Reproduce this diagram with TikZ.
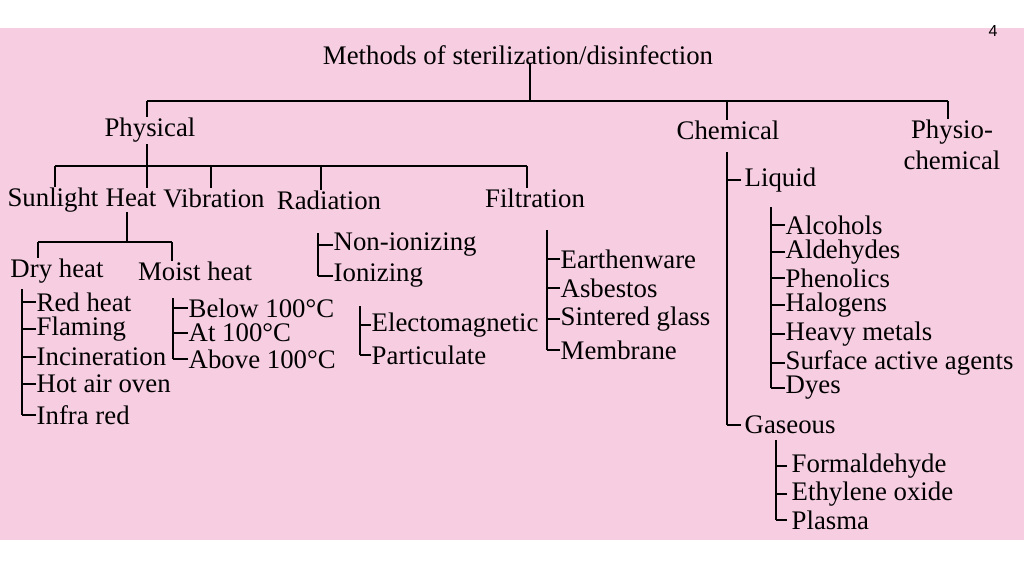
\documentclass[tikz,border=0pt]{standalone}
\usepackage{fontspec}
\setmainfont{Liberation Serif}
\newfontfamily\numfont{Liberation Sans}
\definecolor{bgpink}{RGB}{247,205,225}
\begin{document}
\begin{tikzpicture}[x=1pt,y=-1pt,line width=1.4pt,
  txt/.style={inner sep=0pt,font=\fontsize{26.8}{30}\selectfont},
  it/.style={txt,anchor=west},
  br/.style={line width=1.2pt}]
\useasboundingbox (0,0) rectangle (1024,576);
\fill[white] (0,0) rectangle (1024,576);
\fill[bgpink] (0,28) rectangle (1024,540);
\node[inner sep=0pt,font=\numfont\fontsize{16}{18}\selectfont] (pg) at (993,31) {4};
\node[txt] (title) at (518,55) {Methods of sterilization/disinfection};
\node[txt] (phys) at (150,130) {Physical};
\node[txt] (chem) at (728,130) {Chemical};
\node[txt,align=center,font=\fontsize{26.8}{31}\selectfont] (pc) at (952,145) {Physio-\\chemical};
\coordinate (j0) at (530,101);
\draw (title.south -| j0) ++(0,-2) -- (j0);
\draw (147,101) -- (948,101);
\draw (147,101) -- (phys.north -| 147,0);
\draw (727,101) -- (chem.north -| 727,0);
\draw (948,101) -- (pc.north -| 948,0);
% physical children
\node[txt] (sun) at (53,200) {Sunlight};
\node[txt] (heat) at (131,198) {Heat};
\node[txt] (vib) at (214,198) {Vibration};
\node[txt] (rad) at (329,200) {Radiation};
\node[txt] (fil) at (535,198) {Filtration};
\draw (147,144) -- (147,166);
\draw (55,166) -- (527,166);
\foreach \x/\n in {55/sun,147/heat,211/vib,321/rad,527/fil}
  \draw (\x,166) -- (\n.north -| \x,0);
% heat
\node[txt] (dry) at (57,271) {Dry heat};
\node[txt] (moist) at (195,271) {Moist heat};
\draw (127,212) -- (127,242);
\draw (38,242) -- (172,242);
\draw (38,242) -- (dry.north -| 38,0);
\draw (172,242) -- (moist.north -| 172,0);
% dry heat list
\node[it] (d1) at (36,302) {Red heat};
\node[it] (d2) at (36,329) {Flaming};
\node[it] (d3) at (36,357) {Incineration};
\node[it] (d4) at (36,384) {Hot air oven};
\node[it] (d5) at (36,415) {Infra red};
\draw[br] (22,289) -- (22,415);
\foreach \n in {d1,d2,d3,d4,d5} \draw[br] (\n.west) -- (\n.west -| 22,0);
% moist heat list
\node[it] (m1) at (188,308) {Below 100°C};
\node[it] (m2) at (188,333) {At 100°C};
\node[it] (m3) at (188,359) {Above 100°C};
\draw[br] (173,298) -- (173,359);
\foreach \n in {m1,m2,m3} \draw[br] (\n.west) -- (\n.west -| 173,0);
% radiation list
\node[it] (r1) at (333,245) {Non-ionizing};
\node[it] (r2) at (333,276) {Ionizing};
\draw[br] (318,233) -- (318,276);
\foreach \n in {r1,r2} \draw[br] (\n.west) -- (\n.west -| 318,0);
\node[it] (i1) at (371,325) {Electomagnetic};
\node[it] (i2) at (371,355) {Particulate};
\draw[br] (360,306) -- (360,355);
\foreach \n in {i1,i2} \draw[br] (\n.west) -- (\n.west -| 360,0);
% filtration list
\node[it] (f1) at (560,259) {Earthenware};
\node[it] (f2) at (560,288) {Asbestos};
\node[it] (f3) at (560,319) {Sintered glass};
\node[it] (f4) at (560,350) {Membrane};
\draw[br] (547,230) -- (547,350);
\foreach \n in {f1,f2,f3,f4} \draw[br] (\n.west) -- (\n.west -| 547,0);
% chemical
\node[it] (liq) at (744,180) {Liquid};
\node[it] (gas) at (744,425) {Gaseous};
\draw[br] (727,152) -- (727,425);
\foreach \n in {liq,gas} \draw[br] (\n.west) ++(-3,0) -- (\n.west -| 727,0);
\node[it] (l1) at (785,225) {Alcohols};
\node[it] (l2) at (785,252) {Aldehydes};
\node[it] (l3) at (785,278) {Phenolics};
\node[it] (l4) at (785,305) {Halogens};
\node[it] (l5) at (785,334) {Heavy metals};
\node[it] (l6) at (785,363) {Surface active agents};
\node[it] (l7) at (785,388) {Dyes};
\draw[br] (771,207) -- (771,388);
\foreach \n in {l1,l2,l3,l4,l5,l6,l7} \draw[br] (\n.west) -- (\n.west -| 771,0);
\node[it] (g1) at (791,466) {Formaldehyde};
\node[it] (g2) at (791,494) {Ethylene oxide};
\node[it] (g3) at (791,520) {Plasma};
\draw[br] (776,440) -- (776,520);
\foreach \n in {g1,g2,g3} \draw[br] (\n.west) ++(-4,0) -- (\n.west -| 776,0);
\end{tikzpicture}
\end{document}
